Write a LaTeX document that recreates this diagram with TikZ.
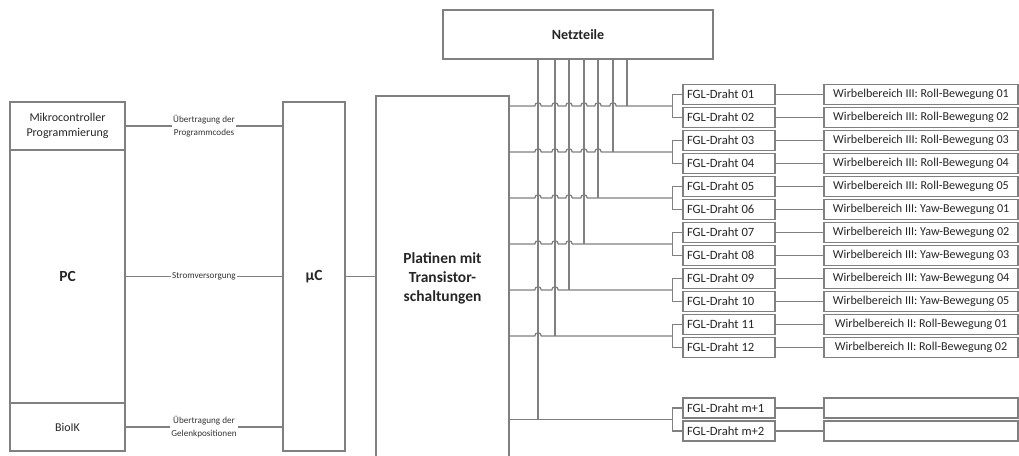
\documentclass[tikz,border=0pt]{standalone}
\usepackage{fontspec}
\setmainfont{Carlito}
\usetikzlibrary{calc, positioning}
\newdimen\pxl \pxl=0.025cm
\tikzset{
    box/.style={rectangle, draw=black!50, line width=0.9pt, align=center, inner sep=1pt, text=black!85},
    sidebox/.style={box, minimum width=115\pxl, font=\fontsize{8.5}{10.5}\selectfont},
    bigbox/.style={box, font=\bfseries\fontsize{11}{13.5}\selectfont},
    fglbox/.style={box, minimum width=92\pxl, minimum height=20\pxl, inner ysep=0pt,
        font=\fontsize{9}{10}\selectfont},
    zonebox/.style={box, minimum width=194\pxl, minimum height=20\pxl, inner ysep=0pt,
        font=\fontsize{8.6}{10}\selectfont},
    wire/.style={draw=black!50, line width=0.9pt},
    lbl/.style={fill=white, inner sep=1pt, align=center, text=black!80,
        font=\fontsize{6.5}{8.8}\selectfont},
}
\newcommand{\fgltext}[1]{\makebox[84\pxl][l]{FGL-Draht #1}}

\begin{document}
\begin{tikzpicture}[x=0.025cm, y=-0.025cm]
    \useasboundingbox (0,0) rectangle (1019,455);
    % PC side
    \node[sidebox, minimum height=48\pxl] (prog) at (67.5,126) {Mikrocontroller\\Programmierung};
    \node[sidebox, minimum height=253\pxl, font=\bfseries\fontsize{11}{13}\selectfont] (pc) at (67.5,276.5) {PC};
    \node[sidebox, minimum height=48\pxl] (bioik) at (67.5,427) {BioIK};
    \node[bigbox, minimum width=62\pxl, minimum height=349\pxl] (uc) at (314,276.5) {µC};
    \node[bigbox, minimum width=133\pxl, minimum height=364\pxl] (plat) at (442.5,278) {Platinen mit\\Transistor-\\schaltungen};
    \node[bigbox, minimum width=270\pxl, minimum height=49\pxl, font=\bfseries\fontsize{10}{12}\selectfont] (netz) at (578,34.5) {Netzteile};

    \draw[wire] (prog.east) -- node[lbl] {Übertragung der\\Programmcodes} (prog.east -| uc.west);
    \draw[wire] (pc.east) -- node[lbl] {Stromversorgung} (pc.east -| uc.west);
    \draw[wire] (bioik.east) -- node[lbl] {Übertragung der\\Gelenkpositionen} (bioik.east -| uc.west);
    \draw[wire] (uc.east) -- (uc.east -| plat.west);

    % FGL wires and zones
    \foreach \nr/\zone [count=\i] in {01/III: Roll-Bewegung 01, 02/III: Roll-Bewegung 02,
        03/III: Roll-Bewegung 03, 04/III: Roll-Bewegung 04, 05/III: Roll-Bewegung 05,
        06/III: Yaw-Bewegung 01, 07/III: Yaw-Bewegung 02, 08/III: Yaw-Bewegung 03,
        09/III: Yaw-Bewegung 04, 10/III: Yaw-Bewegung 05, 11/II: Roll-Bewegung 01,
        12/II: Roll-Bewegung 02} {
        \pgfmathsetmacro\yy{94.5+23*(\i-1)}
        \node[fglbox] (f\i) at (729,\yy) {\fgltext{\nr}};
        \node[zonebox] (w\i) at (921,\yy) {Wirbelbereich \zone};
        \draw[wire] (f\i) -- (w\i);
    }
    \foreach \nr [count=\i from 13] in {m+1, m+2} {
        \pgfmathsetmacro\yy{408+23*(\i-13)}
        \node[fglbox] (f\i) at (729,\yy) {\fgltext{\nr}};
        \node[zonebox] (w\i) at (921,\yy) {};
        \draw[wire] (f\i) -- (w\i);
    }

    % brackets
    \foreach \k in {1,...,7} {
        \pgfmathtruncatemacro\a{2*\k-1}
        \pgfmathtruncatemacro\b{2*\k}
        \coordinate (b\k) at ($(f\a.west)!0.5!(f\b.west)+(-10,0)$);
        \draw[wire] (f\a.west) -| (b\k) |- (f\b.west);
    }

    % supply lines from Netzteile
    \foreach \xx [count=\j] in {538,555,569,584,598,613,627} {
        \coordinate (v\j) at (\xx,0);
        \pgfmathtruncatemacro\m{8-\j}
        \draw[wire] (netz.south -| v\j) -- (b\m -| v\j);
    }

    % outputs of the boards, hopping over supply lines
    \foreach \k in {1,...,6} {
        \pgfmathtruncatemacro\n{7-\k}
        \draw[wire] (plat.east |- b\k) foreach \j in {1,...,\n} {
            -- ($(v\j |- b\k)+(-2.3pt,0)$) arc[start angle=180, end angle=0, radius=2.3pt]
        } -- (b\k);
    }
    \draw[wire] (plat.east |- b7) -- (b7);
\end{tikzpicture}
\end{document}
